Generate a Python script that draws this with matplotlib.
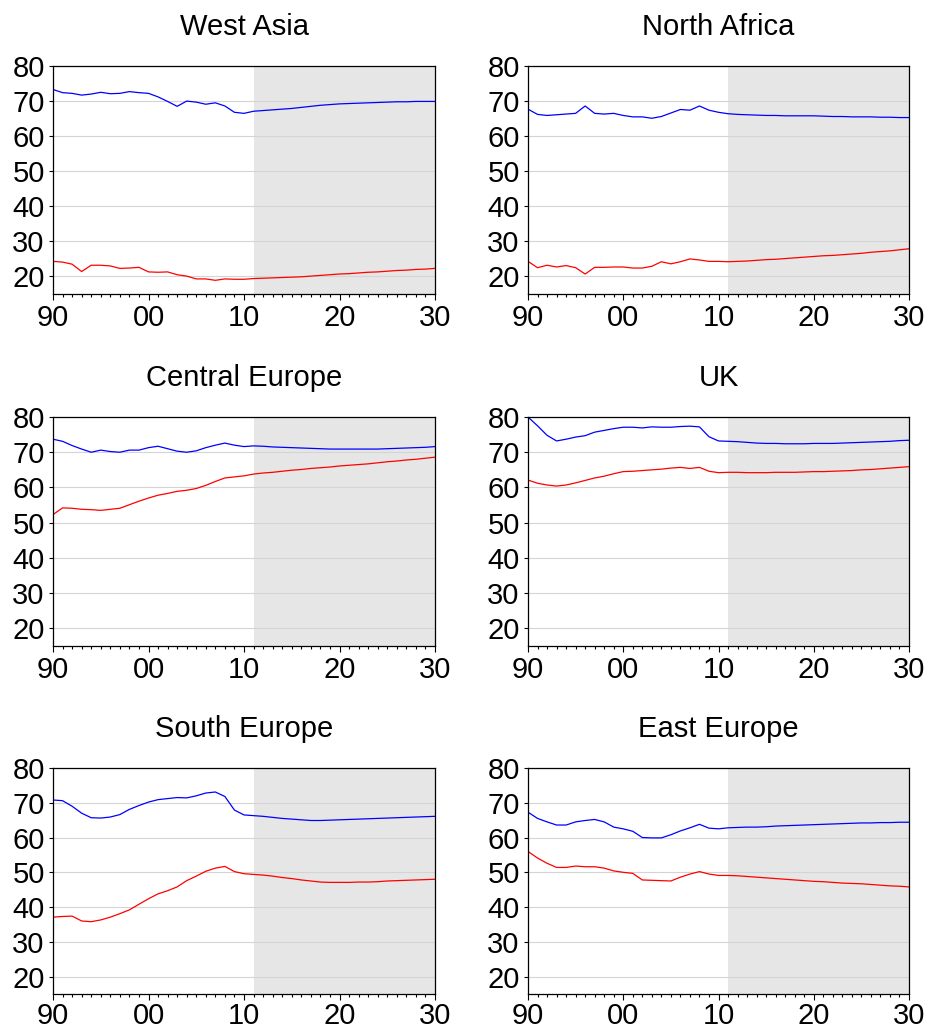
import matplotlib
matplotlib.use('Agg')
import matplotlib.pyplot as plt
import numpy as np

plt.rcParams['font.family'] = ['Liberation Sans', 'DejaVu Sans']

years = np.arange(1990, 2031)
forecast_start = 2011

titles = ['West Asia', 'North Africa', 'Central Europe', 'UK',
          'South Europe', 'East Europe']

# blue series, 1990-2030
west_asia_blue = [73.3, 72.4, 72.2, 71.7, 72.0, 72.5, 72.1, 72.2, 72.7, 72.4,
                  72.2, 71.2, 69.9, 68.5, 70.0, 69.7, 69.1, 69.5, 68.6, 66.8,
                  66.5, 67.1, 67.3, 67.5, 67.7, 67.9, 68.2, 68.5, 68.8, 69.0,
                  69.2, 69.3, 69.4, 69.5, 69.6, 69.7, 69.8, 69.8, 69.9, 69.9,
                  69.9]
north_africa_blue = [67.7, 66.2, 65.9, 66.1, 66.3, 66.5, 68.6, 66.5, 66.3, 66.5,
                     65.9, 65.5, 65.5, 65.1, 65.6, 66.6, 67.6, 67.4, 68.6, 67.4,
                     66.8, 66.4, 66.2, 66.1, 66.0, 65.9, 65.9, 65.8, 65.8, 65.8,
                     65.8, 65.7, 65.6, 65.6, 65.5, 65.5, 65.5, 65.4, 65.4, 65.3,
                     65.3]
central_europe_blue = [73.7, 73.1, 71.9, 70.9, 70.0, 70.6, 70.2, 70.0, 70.6, 70.6,
                       71.3, 71.7, 71.0, 70.3, 70.0, 70.4, 71.3, 72.0, 72.6, 72.0,
                       71.6, 71.8, 71.7, 71.5, 71.4, 71.3, 71.2, 71.1, 71.0, 70.9,
                       70.9, 70.9, 70.9, 70.9, 70.9, 71.0, 71.1, 71.2, 71.3, 71.4,
                       71.6]
uk_blue = [80.0, 77.5, 74.8, 73.2, 73.7, 74.3, 74.7, 75.7, 76.2, 76.7,
           77.1, 77.1, 76.9, 77.2, 77.1, 77.1, 77.3, 77.4, 77.2, 74.4,
           73.2, 73.1, 73.0, 72.8, 72.6, 72.5, 72.5, 72.4, 72.4, 72.4,
           72.5, 72.5, 72.5, 72.6, 72.7, 72.8, 72.9, 73.0, 73.1, 73.3,
           73.4]
south_europe_blue = [70.8, 70.6, 69.0, 67.0, 65.7, 65.6, 65.9, 66.6, 68.1, 69.2,
                     70.2, 70.9, 71.2, 71.5, 71.4, 72.0, 72.8, 73.1, 71.8, 67.9,
                     66.5, 66.3, 66.1, 65.8, 65.5, 65.3, 65.1, 64.9, 64.9, 65.0,
                     65.1, 65.2, 65.3, 65.4, 65.5, 65.6, 65.7, 65.8, 65.9, 66.0,
                     66.1]
east_europe_blue = [67.3, 65.5, 64.5, 63.6, 63.6, 64.5, 64.9, 65.2, 64.5, 63.0,
                    62.5, 61.8, 60.0, 59.9, 59.9, 60.8, 61.9, 62.8, 63.8, 62.7,
                    62.5, 62.8, 62.9, 63.0, 63.0, 63.1, 63.3, 63.4, 63.5, 63.6,
                    63.7, 63.8, 63.9, 64.0, 64.1, 64.2, 64.2, 64.3, 64.3, 64.4,
                    64.4]

# red series, 1990-2030
west_asia_red = [24.3, 24.1, 23.5, 21.4, 23.2, 23.2, 23.0, 22.3, 22.4, 22.6,
                 21.3, 21.2, 21.3, 20.5, 20.1, 19.3, 19.3, 18.9, 19.3, 19.2,
                 19.2, 19.4, 19.5, 19.6, 19.7, 19.8, 19.9, 20.1, 20.3, 20.5,
                 20.7, 20.8, 21.0, 21.2, 21.3, 21.5, 21.7, 21.8, 22.0, 22.1,
                 22.3]
north_africa_red = [24.3, 22.5, 23.2, 22.7, 23.1, 22.5, 20.7, 22.6, 22.6, 22.7,
                    22.7, 22.4, 22.4, 22.9, 24.2, 23.6, 24.2, 25.0, 24.7, 24.3,
                    24.3, 24.2, 24.3, 24.4, 24.6, 24.8, 24.9, 25.1, 25.3, 25.5,
                    25.7, 25.9, 26.0, 26.2, 26.4, 26.6, 26.9, 27.1, 27.3, 27.6,
                    27.9]
central_europe_red = [52.3, 54.2, 54.1, 53.8, 53.7, 53.5, 53.8, 54.1, 55.1, 56.1,
                      57.0, 57.8, 58.3, 58.9, 59.2, 59.7, 60.6, 61.7, 62.7, 63.0,
                      63.3, 63.8, 64.1, 64.3, 64.6, 64.9, 65.1, 65.4, 65.6, 65.8,
                      66.1, 66.3, 66.5, 66.7, 67.0, 67.3, 67.5, 67.8, 68.0, 68.3,
                      68.6]
uk_red = [62.1, 61.2, 60.7, 60.4, 60.7, 61.3, 62.0, 62.7, 63.2, 63.9,
          64.5, 64.6, 64.8, 65.0, 65.2, 65.5, 65.7, 65.4, 65.7, 64.6,
          64.2, 64.3, 64.3, 64.2, 64.2, 64.2, 64.3, 64.3, 64.3, 64.4,
          64.5, 64.5, 64.6, 64.7, 64.8, 65.0, 65.1, 65.3, 65.5, 65.7,
          65.9]
south_europe_red = [37.1, 37.3, 37.4, 36.0, 35.8, 36.3, 37.1, 38.1, 39.2, 40.8,
                    42.4, 43.8, 44.7, 45.8, 47.6, 48.9, 50.3, 51.2, 51.7, 50.2,
                    49.6, 49.4, 49.2, 48.9, 48.5, 48.2, 47.8, 47.5, 47.2, 47.1,
                    47.1, 47.1, 47.2, 47.2, 47.3, 47.5, 47.6, 47.7, 47.8, 47.9,
                    48.0]
east_europe_red = [56.0, 54.1, 52.6, 51.4, 51.4, 51.8, 51.6, 51.6, 51.2, 50.4,
                   50.0, 49.7, 47.8, 47.7, 47.6, 47.5, 48.6, 49.5, 50.2, 49.5,
                   49.1, 49.1, 49.0, 48.8, 48.6, 48.4, 48.2, 48.0, 47.8, 47.6,
                   47.4, 47.3, 47.1, 46.9, 46.8, 46.7, 46.5, 46.3, 46.1, 46.0,
                   45.8]

blue_series = [west_asia_blue, north_africa_blue, central_europe_blue,
               uk_blue, south_europe_blue, east_europe_blue]
red_series = [west_asia_red, north_africa_red, central_europe_red,
              uk_red, south_europe_red, east_europe_red]

xticks = [1990, 2000, 2010, 2020, 2030]
xticklabels = ['90', '00', '10', '20', '30']
yticks = [20, 30, 40, 50, 60, 70, 80]

W, H = 926, 1032
fig = plt.figure(figsize=(W / 100, H / 100), dpi=100)

lefts = [53, 528]
widths = [382, 381]
tops = [66, 417, 768]
heights = [228, 229, 226]

for i in range(6):
    r, c = divmod(i, 2)
    ax = fig.add_axes([lefts[c] / W, 1 - (tops[r] + heights[r]) / H,
                       widths[c] / W, heights[r] / H])
    ax.axvspan(forecast_start, 2030, color='#e6e6e6', lw=0, zorder=0)
    for y in yticks:
        ax.axhline(y, color='#d4d4d4', lw=0.8, zorder=1)
    ax.plot(years, blue_series[i], color='#0000ff', lw=0.9, zorder=3)
    ax.plot(years, red_series[i], color='#ff0000', lw=0.9, zorder=3)

    ax.set_xlim(1990, 2030)
    ax.set_ylim(15, 80)
    ax.set_xticks(xticks)
    ax.set_xticklabels(xticklabels)
    ax.set_xticks(years, minor=True)
    ax.set_yticks(yticks)
    ax.tick_params(axis='both', labelsize=21, direction='out', width=0.8)
    ax.tick_params(axis='x', which='major', length=4, pad=2 if r == 2 else 3)
    ax.tick_params(axis='x', which='minor', length=2, width=0.8)
    ax.tick_params(axis='y', length=3, pad=3)
    ax.tick_params(top=False, right=False)
    for s in ax.spines.values():
        s.set_linewidth(0.9)
        s.set_zorder(4)
    ax.set_title(titles[i], fontsize=21, pad=22)

fig.savefig('out.png', dpi=100)
